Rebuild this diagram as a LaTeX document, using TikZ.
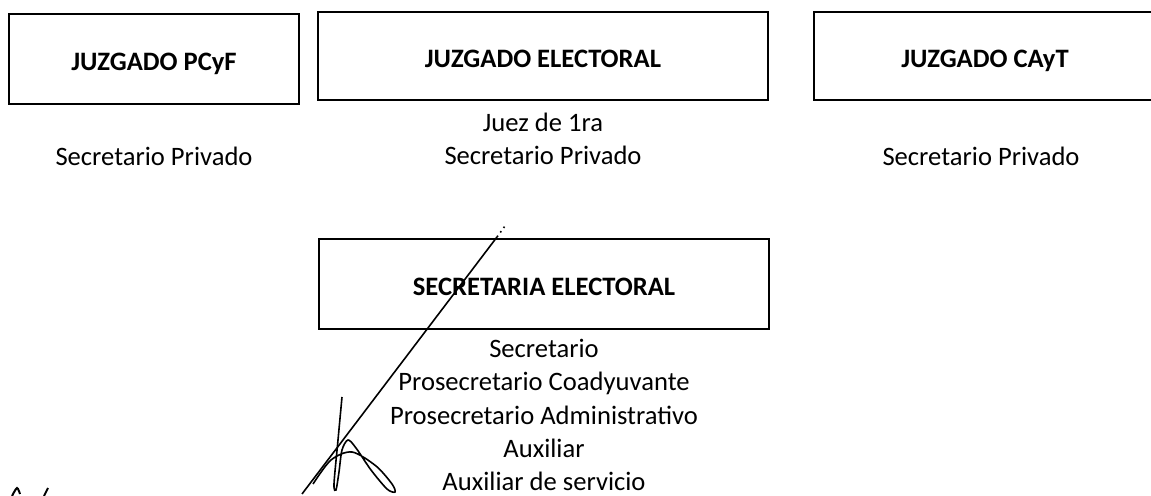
\documentclass[tikz,border=0pt]{standalone}
\usepackage{fontspec}
\setmainfont{Carlito}
\begin{document}
\begin{tikzpicture}[x=0.5pt, y=-0.5pt,
  juzgado/.style={draw, line width=0.8pt, inner sep=0pt, text height=12pt, text depth=0pt, font=\bfseries\fontsize{13.3}{15}\selectfont},
  cargos/.style={align=center, font=\fontsize{13.3}{16.7}\selectfont}]
\useasboundingbox (0,0) rectangle (1151,496);
%\draw[very thin,color=gray] (0,0) grid[step=50] (1151,496);

% juzgados
\node[juzgado, minimum width=145pt, minimum height=45pt] (pcyf) at (154,59) {JUZGADO PCyF};
\node[juzgado, minimum width=225pt, minimum height=44pt] (electoral) at (543,56) {JUZGADO ELECTORAL};
\node[juzgado, minimum width=171pt, minimum height=44pt] (cayt) at (985,56) {JUZGADO CAyT};

\node[cargos] (pcyfcargos) at (154,156) {Secretario Privado};
\node[cargos, anchor=north] (electoralcargos) at (543,106) {Juez de 1ra\\Secretario Privado};
\node[cargos] (caytcargos) at (981,156) {Secretario Privado};

% secretaria
\node[juzgado, minimum width=225pt, minimum height=45pt] (secretaria) at (544,284) {SECRETARIA ELECTORAL};
\node[cargos, anchor=north] (secretariacargos) at (544,332)
  {Secretario\\Prosecretario Coadyuvante\\Prosecretario Administrativo\\Auxiliar\\Auxiliar de servicio};

% firma
\draw[line width=0.8pt] (302,494) -- (497,237);
\draw[line width=0.8pt, dotted] (497,237) -- (505,226);
\draw[line width=0.8pt] plot[smooth] coordinates {(342,397) (338,440) (334,484) (336,490) (339,472) (342,450) (348,440) (356,448) (371,470) (387,489) (395,492) (392,484) (376,466) (352,452) (331,460) (313,484)};
\draw[line width=1pt] plot[smooth] coordinates {(12,496) (17,488) (20,494)};
\draw[line width=1pt] (44,496) -- (48,488);

\end{tikzpicture}
\end{document}
